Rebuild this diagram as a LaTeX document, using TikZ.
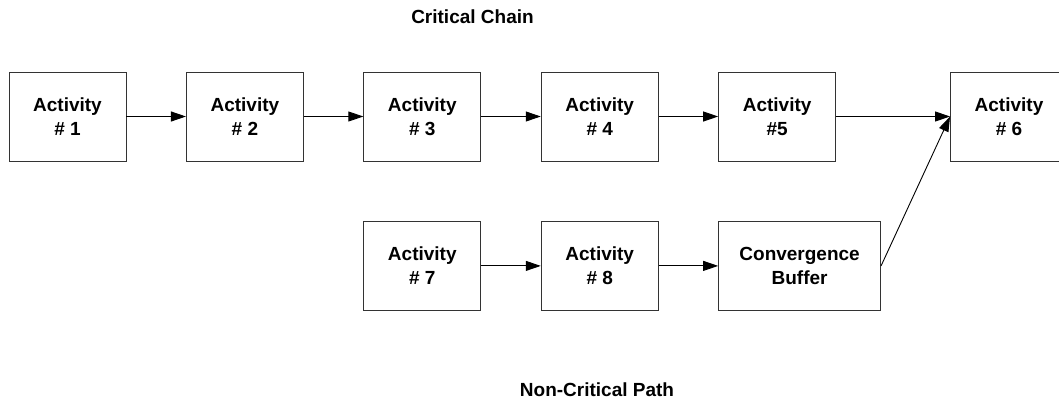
\documentclass[tikz,border=0pt]{standalone}
\usepackage{fontspec}
\setmainfont{Liberation Sans}
\usetikzlibrary{positioning,arrows.meta}
\tikzset{
  actbox/.style={draw=black!80,line width=0.9pt,minimum width=117pt,minimum height=89pt,
    inner sep=0pt,align=center,font=\fontsize{19}{24}\selectfont\bfseries},
  bufbox/.style={actbox,minimum width=162pt},
  flow/.style={-{Triangle[length=15pt,width=10pt]},line width=0.9pt},
  pathtitle/.style={anchor=base,font=\fontsize{19}{24}\selectfont\bfseries}
}

\begin{document}
\begin{tikzpicture}[x=1pt,y=-1pt,node distance=59.5pt and 59.5pt]
    \useasboundingbox (0,0) rectangle (1059,399);

    \coordinate (O) at (67.5,116.5);

    % critical chain
    \node[actbox] (a1) at (O) {Activity\\\# 1};
    \node[actbox,right=of a1] (a2) {Activity\\\# 2};
    \node[actbox,right=of a2] (a3) {Activity\\\# 3};
    \node[actbox,right=of a3] (a4) {Activity\\\# 4};
    \node[actbox,right=of a4] (a5) {Activity\\\#5};
    \node[actbox,right=114pt of a5] (a6) {Activity\\\# 6};

    % feeding path
    \node[actbox,below=of a3] (a7) {Activity\\\# 7};
    \node[actbox,right=of a7] (a8) {Activity\\\# 8};
    \node[bufbox,right=of a8] (buf) {Convergence\\Buffer};

    \node[pathtitle] (tcc) at (472.5,23.3) {Critical Chain};
    \node[pathtitle] (tnc) at (597,396.7) {Non-Critical Path};

    \draw[flow] (a1) -- (a2);
    \draw[flow] (a2) -- (a3);
    \draw[flow] (a3) -- (a4);
    \draw[flow] (a4) -- (a5);
    \draw[flow] (a5) -- (a6);

    \draw[flow] (a7) -- (a8);
    \draw[flow] (a8) -- (buf);
    \draw[flow] (buf.east) -- (a6.west);

\end{tikzpicture}
\end{document}
